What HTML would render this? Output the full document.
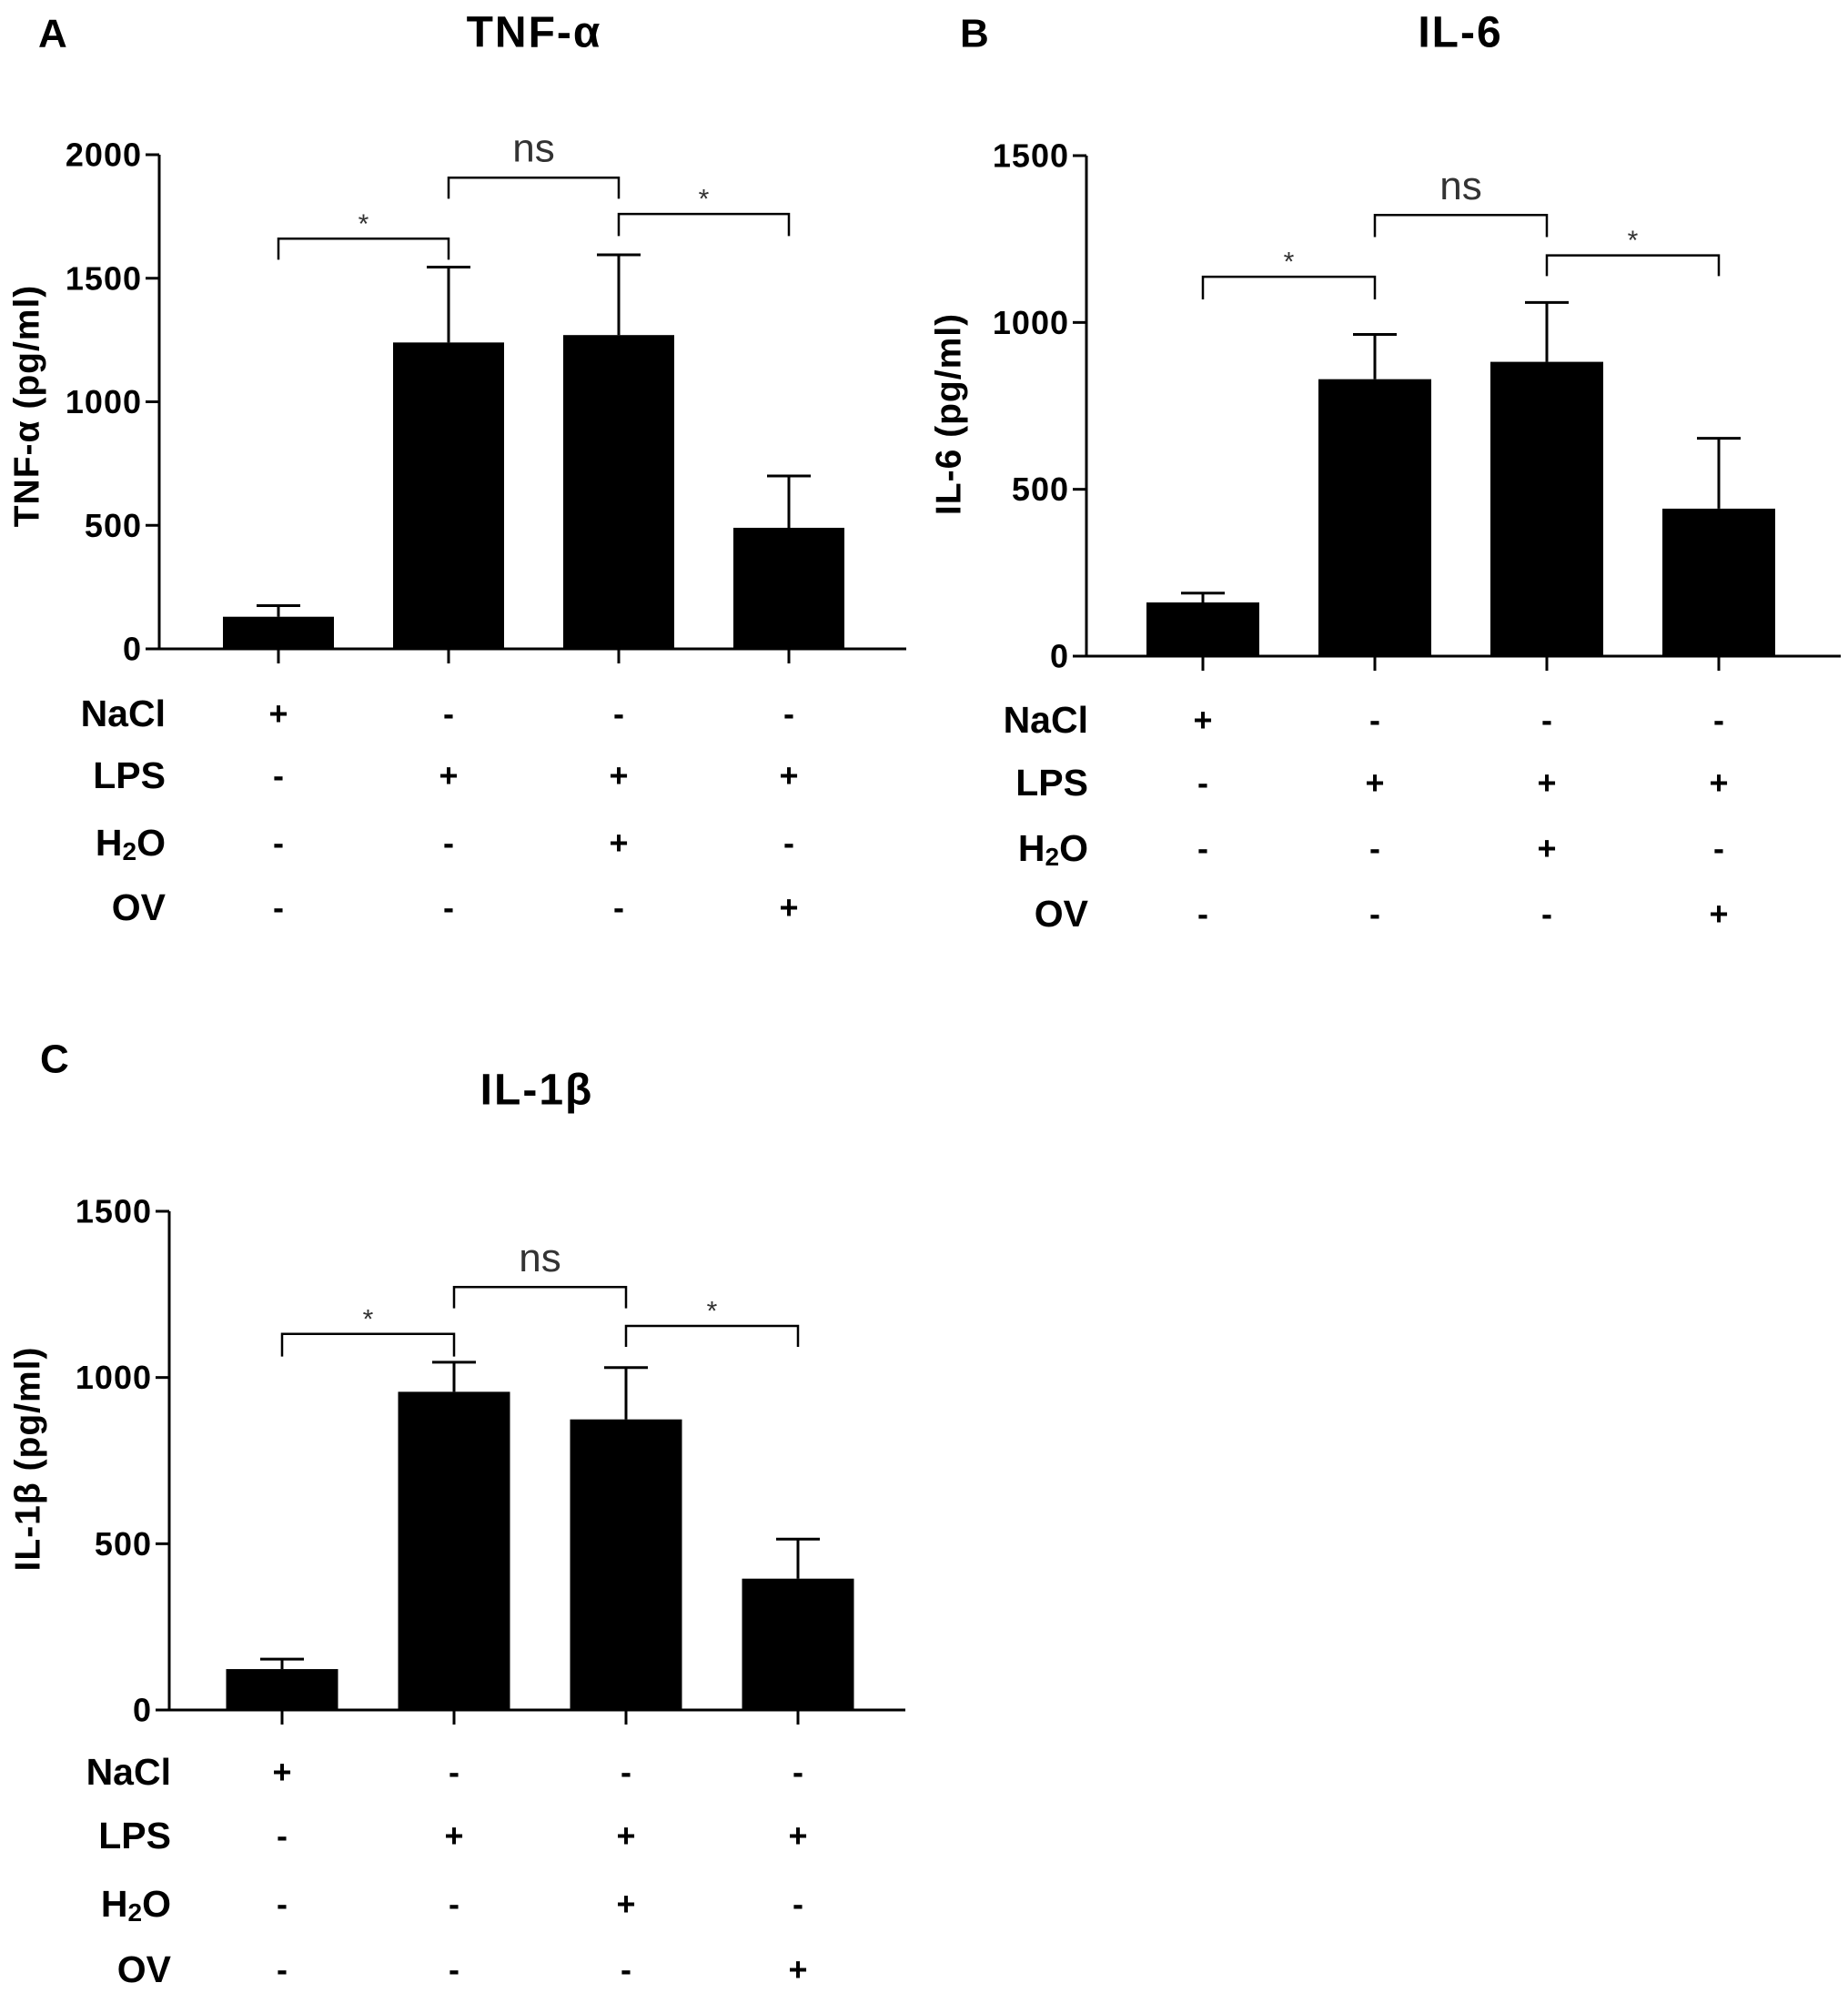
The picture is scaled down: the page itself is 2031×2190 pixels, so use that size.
<!DOCTYPE html>
<html><head><meta charset="utf-8"><style>
html,body{margin:0;padding:0;background:#fff;}
svg{display:block;font-family:"Liberation Sans",Arial,sans-serif;}
</style></head><body>
<svg id="fig" width="2031" height="2190" viewBox="0 0 2031 2190" xmlns="http://www.w3.org/2000/svg"></svg>
<script>
// ---- data ----
const groups = ["NaCl","LPS","H2O","OV"];
const signRows = [["+","-","-","-"],["-","+","+","+"],["-","-","+","-"],["-","-","-","+"]];
const tnfValues = [130, 1240, 1270, 490];
const tnfErrors = [175, 1545, 1595, 700];
const tnfTicks = [0, 500, 1000, 1500, 2000];
const tnfBrackets = [[0,1,1660,1575,"*"],[1,2,1907,1822,"ns"],[2,3,1760,1671,"*"]];
const il6Values = [161, 830, 882, 442];
const il6Errors = [189, 964, 1060, 653];
const il6Ticks = [0, 500, 1000, 1500];
const il6Brackets = [[0,1,1137,1069,"*"],[1,2,1322,1256,"ns"],[2,3,1201,1139,"*"]];
const il1bValues = [123, 957, 874, 395];
const il1bErrors = [153, 1046, 1030, 514];
const il1bTicks = [0, 500, 1000, 1500];
const il1bBrackets = [[0,1,1131,1063,"*"],[1,2,1272,1208,"ns"],[2,3,1155,1092,"*"]];

const NS = "http://www.w3.org/2000/svg";
const svg = document.getElementById('fig');
function mk(tag, attrs, parent, txt){
  const e = document.createElementNS(NS, tag);
  for (const k in attrs) e.setAttribute(k, attrs[k]);
  if (txt !== undefined) e.textContent = txt;
  (parent || svg).appendChild(e);
  return e;
}

function panel(p){
  const g = mk('g', {});
  
  
  const yMax = p.ticks[p.ticks.length-1];
  const ys = v => p.y0 - (v / yMax) * (p.y0 - p.yTop);
  const xs = i => p.c0 + i * p.step;
  let t = mk('text', {x:p.letterX, y:p.letterY, 'font-size':44, 'font-weight':'bold', 'dominant-baseline':'central'}, g, p.letter);
  
  
  t = mk('text', {x:p.titleX, y:p.titleY, 'font-size':48, 'font-weight':'bold', 'text-anchor':'middle', 'dominant-baseline':'central', 'letter-spacing':2}, g, p.title);
  
  
  t = mk('text', {x:0, y:0, 'font-size':39, 'font-weight':'bold', 'text-anchor':'middle', 'dominant-baseline':'central', 'letter-spacing':1, transform:`translate(${p.ylabX},${p.ylabY}) rotate(-90)`}, g, p.ylab);
  
  
  p.values.forEach((v,i)=>{
    const cx = xs(i);
    const r = mk('rect', {x:cx - p.bw/2, y:ys(v), width:p.bw, height:p.y0 - ys(v), fill:'#000'}, g);
    
    
    const e = mk('path', {d:`M${cx},${ys(v)}V${ys(p.errors[i])}M${cx-24},${ys(p.errors[i])}H${cx+24}`, stroke:'#000', 'stroke-width':3, fill:'none'}, g);
    
    
    const tk = mk('line', {x1:cx, x2:cx, y1:p.y0, y2:p.y0+16, stroke:'#000', 'stroke-width':3}, g);
    
    
  });
  const ax = mk('path', {d:`M${p.axX},${p.yTop}V${p.y0}H${p.xEnd}`, stroke:'#000', 'stroke-width':3, fill:'none'}, g);
  
  
  p.ticks.forEach(v=>{
    const tk = mk('line', {x1:p.axX-15, x2:p.axX, y1:ys(v), y2:ys(v), stroke:'#000', 'stroke-width':3}, g);
    
    
    const tl = mk('text', {x:p.axX-19, y:ys(v), 'font-size':36, 'font-weight':'bold', 'text-anchor':'end', 'dominant-baseline':'central', 'letter-spacing':1}, g, String(v));
    
    
  });
  p.brackets.forEach(b=>{
    const x1 = xs(b[0]), x2 = xs(b[1]);
    const br = mk('path', {d:`M${x1},${ys(b[3])}V${ys(b[2])}H${x2}V${ys(b[3])}`, stroke:'#000', 'stroke-width':2.5, fill:'none'}, g);
    
    
    const isNs = b[4] === 'ns';
    const st = mk('text', {x:(x1+x2)/2, y:ys(b[2]) - (isNs ? 32 : 16), 'font-size':isNs ? 44 : 30, fill:'#333', 'text-anchor':'middle', 'dominant-baseline':'central'}, g, b[4]);
    
    
  });
  groups.forEach((name,r)=>{
    const y = p.rowY[r];
    const lab = mk('text', {x:p.rowLabX, y:y, 'font-size':41, 'font-weight':'bold', 'text-anchor':'end', 'dominant-baseline':'central'}, g);
    if (name === 'H2O'){
      lab.appendChild(document.createTextNode('H'));
      mk('tspan', {'font-size':28, dy:9}, lab, '2');
      mk('tspan', {dy:-9}, lab, 'O');
    } else lab.textContent = name;
    
    
    signRows[r].forEach((s,i)=>{
      const st = mk('text', {x:xs(i), y:y, 'font-size':36, 'font-weight':'bold', 'text-anchor':'middle', 'dominant-baseline':'central'}, g, s);
      
      
    });
  });
}

panel({id:'tnf', letter:'A', letterX:42, letterY:37, title:'TNF-α', titleX:587, titleY:36,
  ylab:'TNF-α (pg/ml)', ylabX:30, ylabY:446, axX:175, yTop:170, y0:713, xEnd:996,
  c0:306, step:187, bw:122, ticks:tnfTicks, values:tnfValues, errors:tnfErrors, brackets:tnfBrackets,
  rowY:[784,852,926,997], rowLabX:182});
panel({id:'il6', letter:'B', letterX:1055, letterY:37, title:'IL-6', titleX:1605, titleY:36,
  ylab:'IL-6 (pg/ml)', ylabX:1043, ylabY:455, axX:1194, yTop:171, y0:721, xEnd:2023,
  c0:1322, step:189, bw:124, ticks:il6Ticks, values:il6Values, errors:il6Errors, brackets:il6Brackets,
  rowY:[791,860,932,1004], rowLabX:1196});
panel({id:'il1b', letter:'C', letterX:44, letterY:1164, title:'IL-1β', titleX:590, titleY:1198,
  ylab:'IL-1β (pg/ml)', ylabX:31, ylabY:1603, axX:186, yTop:1331, y0:1879, xEnd:995,
  c0:310, step:189, bw:123, ticks:il1bTicks, values:il1bValues, errors:il1bErrors, brackets:il1bBrackets,
  rowY:[1947,2017,2092,2164], rowLabX:188});
</script>
</body></html>
